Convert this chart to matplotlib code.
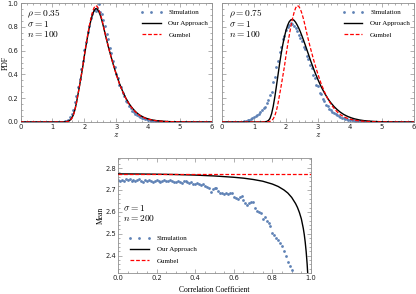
import numpy as np
import matplotlib
matplotlib.use("Agg")
import matplotlib.pyplot as plt
from matplotlib.lines import Line2D
from matplotlib.ticker import MultipleLocator

# ---------------- data ----------------
z_step = 0.05  # grid of z values (0 .. 6)

# simulation, rho = 0.35
pdf_sim_035 = [
    0, 0, 0, 0, 0, 0, 0, 0, 0, 0,
    0, 0, 0, 0, 0, 0, 0, 0, 0, 0,
    0, 0, 0, 0, 0, 0, 0.001, 0.002, 0.005, 0.011,
    0.021, 0.042, 0.07, 0.105, 0.165, 0.22, 0.295, 0.365, 0.445, 0.515,
    0.605, 0.675, 0.755, 0.805, 0.875, 0.905, 0.945, 0.935, 0.962, 0.99,
    0.925, 0.905, 0.855, 0.805, 0.74, 0.695, 0.625, 0.58, 0.51, 0.465,
    0.405, 0.37, 0.315, 0.29, 0.245, 0.22, 0.18, 0.165, 0.132, 0.12,
    0.095, 0.087, 0.068, 0.062, 0.048, 0.045, 0.034, 0.031, 0.024, 0.022,
    0.016, 0.015, 0.011, 0.01, 0.008, 0.007, 0.005, 0.005, 0.004, 0.003,
    0.003, 0.002, 0.002, 0.001, 0.001, 0.001, 0, 0, 0, 0,
    0, 0, 0, 0, 0, 0, 0, 0, 0, 0,
    0, 0, 0, 0, 0, 0, 0, 0, 0, 0,
    0]

# simulation, rho = 0.75
pdf_sim_075 = [
    0, 0, 0, 0, 0, 0, 0, 0, 0, 0,
    0, 0.001, 0.002, 0.004, 0.006, 0.009, 0.013, 0.017, 0.022, 0.03,
    0.038, 0.047, 0.058, 0.07, 0.085, 0.1, 0.118, 0.128, 0.16, 0.185,
    0.225, 0.255, 0.335, 0.38, 0.46, 0.51, 0.59, 0.63, 0.70, 0.725,
    0.77, 0.8, 0.815, 0.83, 0.82, 0.81, 0.79, 0.765, 0.73, 0.705,
    0.68, 0.63, 0.61, 0.555, 0.53, 0.475, 0.45, 0.395, 0.37, 0.315,
    0.30, 0.245, 0.235, 0.19, 0.18, 0.147, 0.135, 0.11, 0.104, 0.084,
    0.075, 0.066, 0.057, 0.05, 0.043, 0.037, 0.032, 0.028, 0.024, 0.021,
    0.018, 0.015, 0.013, 0.011, 0.01, 0.008, 0.007, 0.006, 0.005, 0.004,
    0.004, 0.003, 0.003, 0.002, 0.002, 0.001, 0.001, 0.001, 0, 0,
    0, 0, 0, 0, 0, 0, 0, 0, 0, 0,
    0, 0, 0, 0, 0, 0, 0, 0, 0, 0,
    0]

# Gumbel approximation (same in both panels)
pdf_gumbel = [
    0, 0, 0, 0, 0, 0, 0, 0, 0, 0,
    0, 0, 0, 0, 0, 0, 0, 0, 0, 0,
    0, 0, 0, 0, 0, 0, 0, 0, 0.001, 0.002,
    0.005, 0.012, 0.026, 0.052, 0.095, 0.155, 0.23, 0.305, 0.385, 0.465,
    0.56, 0.645, 0.725, 0.80, 0.865, 0.918, 0.958, 0.978, 0.972, 0.948,
    0.91, 0.862, 0.805, 0.745, 0.69, 0.635, 0.585, 0.535, 0.488, 0.443,
    0.40, 0.36, 0.32, 0.288, 0.255, 0.226, 0.198, 0.175, 0.152, 0.133,
    0.115, 0.1, 0.085, 0.073, 0.062, 0.053, 0.045, 0.039, 0.033, 0.028,
    0.024, 0.021, 0.018, 0.015, 0.013, 0.011, 0.009, 0.008, 0.007, 0.006,
    0.005, 0.004, 0.0035, 0.003, 0.0025, 0.002, 0.0018, 0.0015, 0.0013, 0.0011,
    0.0009, 0.0008, 0.0006, 0.0005, 0.0004, 0.0003, 0.0003, 0.0002, 0.0002, 0.0001,
    0, 0, 0, 0, 0, 0, 0, 0, 0, 0,
    0]

# our approach, rho = 0.35
pdf_ours_035 = [
    0, 0, 0, 0, 0, 0, 0, 0, 0, 0,
    0, 0, 0, 0, 0, 0, 0, 0, 0, 0,
    0, 0, 0, 0, 0, 0, 0, 0.001, 0.002, 0.004,
    0.007, 0.015, 0.03, 0.056, 0.098, 0.157, 0.23, 0.305, 0.383, 0.462,
    0.555, 0.638, 0.715, 0.787, 0.848, 0.898, 0.932, 0.952, 0.95, 0.93,
    0.897, 0.853, 0.8, 0.743, 0.688, 0.635, 0.585, 0.537, 0.49, 0.446,
    0.403, 0.363, 0.324, 0.291, 0.258, 0.229, 0.201, 0.178, 0.155, 0.136,
    0.118, 0.103, 0.088, 0.076, 0.065, 0.056, 0.048, 0.041, 0.035, 0.030,
    0.026, 0.022, 0.019, 0.016, 0.014, 0.012, 0.010, 0.009, 0.008, 0.007,
    0.006, 0.005, 0.004, 0.0035, 0.003, 0.0025, 0.002, 0.0017, 0.0014, 0.0012,
    0.001, 0.0009, 0.0007, 0.0006, 0.0005, 0.0004, 0.0003, 0.0003, 0.0002, 0.0002,
    0.0001, 0.0001, 0, 0, 0, 0, 0, 0, 0, 0,
    0]

# our approach, rho = 0.75
pdf_ours_075 = [
    0, 0, 0, 0, 0, 0, 0, 0, 0, 0,
    0, 0, 0, 0, 0, 0, 0, 0, 0, 0,
    0, 0, 0, 0, 0, 0, 0.001, 0.002, 0.005, 0.012,
    0.03, 0.07, 0.13, 0.21, 0.30, 0.395, 0.49, 0.575, 0.65, 0.715,
    0.77, 0.812, 0.842, 0.858, 0.862, 0.855, 0.838, 0.815, 0.788, 0.757,
    0.722, 0.686, 0.648, 0.609, 0.57, 0.53, 0.492, 0.456, 0.42, 0.387,
    0.355, 0.325, 0.296, 0.27, 0.245, 0.222, 0.2, 0.18, 0.162, 0.146,
    0.13, 0.117, 0.104, 0.093, 0.082, 0.073, 0.064, 0.057, 0.05, 0.044,
    0.039, 0.034, 0.03, 0.026, 0.023, 0.02, 0.017, 0.015, 0.013, 0.011,
    0.01, 0.0088, 0.0075, 0.0065, 0.0055, 0.0047, 0.004, 0.0035, 0.003, 0.0025,
    0.002, 0.0017, 0.0014, 0.0012, 0.001, 0.0008, 0.0007, 0.0006, 0.0005, 0.0004,
    0.0003, 0.0003, 0.0002, 0.0002, 0.0002, 0.0001, 0.0001, 0.0001, 0.0001, 0.0001,
    0]

# mean vs correlation coefficient (n = 200)
rho_step = 0.01
mean_sim = [
    2.745, 2.743, 2.746, 2.741, 2.748, 2.744, 2.750, 2.742, 2.745, 2.739,
    2.744, 2.748, 2.740, 2.737, 2.745, 2.741, 2.747, 2.743, 2.738, 2.742,
    2.746, 2.740, 2.736, 2.741, 2.745, 2.739, 2.743, 2.747, 2.740, 2.735,
    2.738, 2.742, 2.736, 2.733, 2.739, 2.741, 2.736, 2.731, 2.735, 2.729,
    2.726, 2.731, 2.727, 2.722, 2.728, 2.718, 2.713, 2.709, 2.693, 2.703,
    2.707, 2.711, 2.694, 2.686, 2.688, 2.683, 2.684, 2.682, 2.684, 2.685,
    2.668, 2.664, 2.660, 2.667, 2.672, 2.653, 2.642, 2.630, 2.640, 2.643,
    2.645, 2.618, 2.603, 2.598, 2.595, 2.566, 2.575, 2.560, 2.548, 2.534,
    2.504, 2.495, 2.482, 2.470, 2.459, 2.445, 2.420, 2.398, 2.370, 2.352,
    2.334]
rho_ours = [0.0, 0.1, 0.2, 0.3, 0.4, 0.5, 0.6, 0.65, 0.7, 0.75, 0.8, 0.83,
            0.86, 0.88, 0.9, 0.92, 0.93, 0.94, 0.95, 0.96, 0.965, 0.97,
            0.975, 0.98, 0.985]
mean_ours = [2.7735, 2.773, 2.772, 2.7705, 2.768, 2.764, 2.758, 2.754, 2.748,
             2.740, 2.727, 2.716, 2.700, 2.686, 2.666, 2.638, 2.620, 2.597,
             2.568, 2.525, 2.497, 2.462, 2.418, 2.362, 2.290]
mean_gumbel = 2.7735

labels = ["Simulation", "Our Approach", "Gumbel"]

z_grid = np.round(np.arange(len(pdf_sim_035)) * z_step, 2)
rho_sim = np.round(np.arange(len(mean_sim)) * rho_step, 2)

# ---------------- style ----------------
plt.rcParams["mathtext.fontset"] = "cm"
serif = ["Liberation Serif", "DejaVu Serif"]
SIM = "#5E81B5"
FRAME = "#8f8f8f"
MS = 2.0
W, H = 416, 294
fig = plt.figure(figsize=(W / 100, H / 100), dpi=100)


def frac(x0, x1, y0, y1):
    return [x0 / W, 1 - y1 / H, (x1 - x0) / W, (y1 - y0) / H]


ax1 = fig.add_axes(frac(20.5, 212, 3, 122))
ax2 = fig.add_axes(frac(222, 414, 3, 122))
ax3 = fig.add_axes(frac(118, 311, 158, 273))


def style(ax, xmaj, xmin, ymaj, ymin, ylabels=True):
    for s in ax.spines.values():
        s.set_color(FRAME)
        s.set_linewidth(0.6)
    ax.xaxis.set_major_locator(MultipleLocator(xmaj))
    ax.xaxis.set_minor_locator(MultipleLocator(xmin))
    ax.yaxis.set_major_locator(MultipleLocator(ymaj))
    ax.yaxis.set_minor_locator(MultipleLocator(ymin))
    ax.tick_params(which="both", direction="in", top=True, right=True,
                   color=FRAME, width=0.5, labelsize=4.9, pad=1.5,
                   labelcolor="#222222")
    ax.tick_params(which="major", length=2.6)
    ax.tick_params(which="minor", length=1.4)
    if not ylabels:
        ax.tick_params(axis="y", labelleft=False)


def legend(ax, x, y):
    h = [Line2D([], [], ls="none", marker="o", ms=MS, mew=0, color=SIM),
         Line2D([], [], color="black", lw=1.0),
         Line2D([], [], color="red", lw=0.9, ls=(0, (3, 1.5)))]
    ax.legend(h, labels, loc="upper left", bbox_to_anchor=(x, y),
              frameon=False, numpoints=3, handlelength=3.3,
              handletextpad=0.8, labelspacing=0.75, borderpad=0,
              borderaxespad=0, prop={"family": serif, "size": 5})


for ax, sim, ours, rho_txt in [(ax1, pdf_sim_035, pdf_ours_035, "0.35"),
                               (ax2, pdf_sim_075, pdf_ours_075, "0.75")]:
    ax.plot(z_grid, sim, ls="none", marker="o", ms=MS, mew=0, color=SIM,
            zorder=2)
    ax.plot(z_grid, ours, color="black", lw=1.0, zorder=3)
    ax.plot(z_grid, pdf_gumbel, color="red", lw=0.9, ls=(0, (3, 1.5)),
            zorder=4)
    ax.set_xlim(0, 6)
    ax.set_ylim(0, 1.0)
    style(ax, 1, 0.2, 0.2, 0.05, ylabels=(ax is ax1))
    ax.set_xlabel("$z$", fontsize=6.5, labelpad=0)
    ax.xaxis.set_label_coords(0.5, -0.07)
    for txt, yy in [(r"$\rho = %s$" % rho_txt, 0.905),
                    (r"$\sigma = 1$", 0.82),
                    (r"$n = 100$", 0.74)]:
        ax.text(0.035, yy, txt, transform=ax.transAxes, fontsize=6.8,
                va="center", ha="left")
    legend(ax, 0.623, 0.945)

ax1.set_ylabel("PDF", family=serif, fontsize=5.5)
ax1.yaxis.set_label_coords(-0.058, 0.5)

ax3.plot(rho_sim, mean_sim, ls="none", marker="o", ms=MS, mew=0, color=SIM,
         zorder=2)
ax3.plot(rho_ours, mean_ours, color="black", lw=1.0, zorder=3)
ax3.axhline(mean_gumbel, color="red", lw=0.9, ls=(0, (3, 1.5)), zorder=4)
ax3.set_xlim(0, 1.0)
ax3.set_ylim(2.321, 2.846)
style(ax3, 0.2, 0.05, 0.1, 0.02)
ax3.set_xlabel("Correlation Coefficient", family=serif, fontsize=5.5)
ax3.xaxis.set_label_coords(0.5, -0.115)
ax3.set_ylabel("Mean", family=serif, fontsize=5.5)
ax3.yaxis.set_label_coords(-0.068, 0.5)
for txt, yy in [(r"$\sigma = 1$", 0.565), (r"$n = 200$", 0.478)]:
    ax3.text(0.027, yy, txt, transform=ax3.transAxes, fontsize=6.8,
             va="center", ha="left")
legend(ax3, 0.052, 0.326)

fig.savefig("out.png", dpi=100)
